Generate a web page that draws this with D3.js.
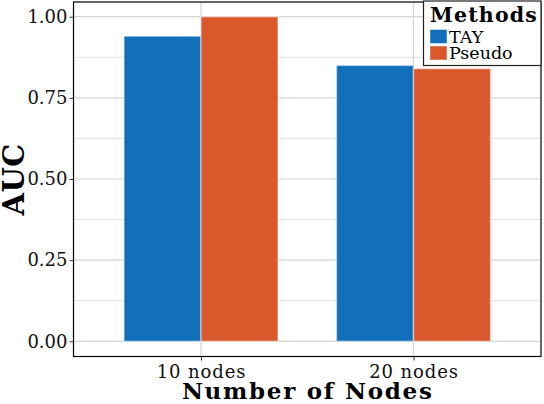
<!DOCTYPE html>
<html><head><meta charset="utf-8">
<script src="https://cdn.jsdelivr.net/npm/d3@7"></script>
<style>body{margin:0;background:#fff}svg{display:block}</style>
</head><body>
<svg id="c" width="544" height="404"></svg>
<script>
const categories = ["10 nodes", "20 nodes"];
const methods = ["TAY", "Pseudo"];
const tayValues = [0.94, 0.85];
const pseudoValues = [1.00, 0.84];
const yTicks = [0, 0.25, 0.5, 0.75, 1.0];
const yMinor = [0.125, 0.375, 0.625, 0.875];
const colors = ["#1170b9", "#da582b"];

const svg = d3.select("#c");
const L = 73.5, R = 541, T = 2, B = 356.5;
const font = "'DejaVu Serif', serif";

const x = d3.scalePoint().domain(categories).range([L, R]).padding(0.6);
const y = d3.scaleLinear().domain([0, 1]).range([341.3, 16.7]);
const step = x.step();
const slot = step * 0.725 / 2;
const xm = d3.scaleBand().domain(methods).range([-slot, slot]);

const data = [];
categories.forEach((c, i) => {
  data.push({c, m: "TAY", v: tayValues[i]});
  data.push({c, m: "Pseudo", v: pseudoValues[i]});
});

// grid
const g = svg.append("g");
g.selectAll(".minor").data(yMinor).join("line")
  .attr("x1", L).attr("x2", R).attr("y1", d => y(d)).attr("y2", d => y(d))
  .attr("stroke", "#e3e3e3").attr("stroke-width", 1);
g.selectAll(".major").data(yTicks).join("line")
  .attr("x1", L).attr("x2", R).attr("y1", d => y(d)).attr("y2", d => y(d))
  .attr("stroke", "#d4d4d4").attr("stroke-width", 1.2);
g.selectAll(".vmajor").data(categories).join("line")
  .attr("x1", d => x(d)).attr("x2", d => x(d)).attr("y1", T).attr("y2", B)
  .attr("stroke", "#d4d4d4").attr("stroke-width", 1.2);

// bars
svg.append("g").selectAll("rect").data(data).join("rect")
  .attr("x", d => x(d.c) + xm(d.m))
  .attr("width", xm.bandwidth())
  .attr("y", d => y(d.v))
  .attr("height", d => y(0) - y(d.v))
  .attr("fill", d => colors[methods.indexOf(d.m)])
  .attr("stroke", "#ffffff").attr("stroke-opacity", 0.45).attr("stroke-width", 1.5);

// border
svg.append("rect").attr("x", L).attr("y", T).attr("width", R - L).attr("height", B - T)
  .attr("fill", "none").attr("stroke", "#000").attr("stroke-width", 1.2);

// y axis
const ya = svg.append("g").attr("transform", `translate(${L},0)`)
  .call(d3.axisLeft(y).tickValues(yTicks).tickFormat(d3.format(".2f")).tickSize(4).tickPadding(2));
ya.select(".domain").remove();
ya.selectAll("text").attr("font-family", font).attr("font-size", 18).attr("fill", "#111");
ya.selectAll("line").attr("stroke", "#333");

// x axis
const xa = svg.append("g").attr("transform", `translate(0,${B})`)
  .call(d3.axisBottom(x).tickSize(4).tickPadding(5));
xa.select(".domain").remove();
xa.selectAll("text").attr("font-family", font).attr("font-size", 18)
  .attr("letter-spacing", 0.9).attr("fill", "#111");
xa.selectAll("line").attr("stroke", "#333");

// titles
svg.append("text").attr("x", (L + R) / 2 + 0.5).attr("y", 399).attr("text-anchor", "middle")
  .attr("font-family", font).attr("font-weight", "bold").attr("font-size", 23)
  .attr("letter-spacing", 1.7)
  .text("Number of Nodes");
svg.append("text").attr("transform", `translate(24,${(T + B) / 2}) rotate(-90)`)
  .attr("text-anchor", "middle")
  .attr("font-family", font).attr("font-weight", "bold").attr("font-size", 29)
  .attr("letter-spacing", 0.5)
  .text("AUC");

// legend
const lg = svg.append("g");
lg.append("rect").attr("x", 423.5).attr("y", 1).attr("width", 117.5).attr("height", 64.5)
  .attr("fill", "#fff").attr("stroke", "#222").attr("stroke-width", 1.2);
lg.append("text").attr("x", 430).attr("y", 22).attr("font-family", font)
  .attr("font-weight", "bold").attr("font-size", 20.5).attr("letter-spacing", 1.2).text("Methods");
methods.forEach((m, i) => {
  lg.append("rect").attr("x", 430).attr("y", 29.5 + i * 16.5).attr("width", 17).attr("height", 14)
    .attr("fill", colors[i]).attr("stroke", "#fff").attr("stroke-opacity", 0.45);
  lg.append("text").attr("x", 449).attr("y", 43 + i * 16.3).attr("font-family", font)
    .attr("font-size", 17.5).text(m);
});
</script>
</body></html>
